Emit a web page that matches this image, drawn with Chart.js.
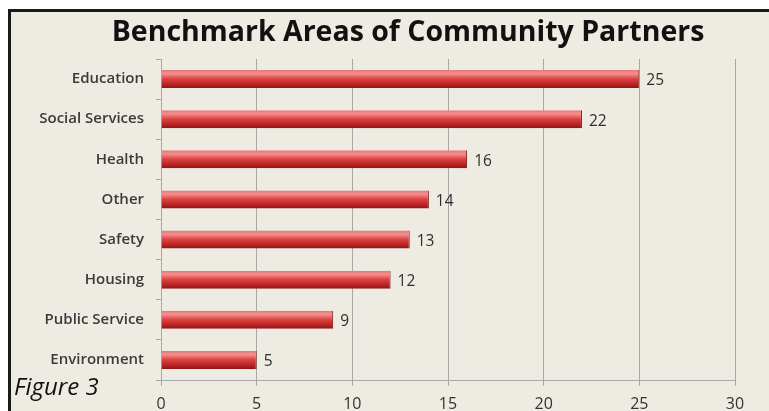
<!DOCTYPE html>
<html>
<head>
<meta charset="utf-8">
<script src="https://cdn.jsdelivr.net/npm/chart.js@4.4.0/dist/chart.umd.min.js"></script>
<style>
	html, body { margin: 0; padding: 0; background: #fff; }
	#frame {
		position: absolute; left: 8px; top: 9px; width: 761px; height: 402px;
		background: #eeebe3; border-left: 3px solid #1a1a1a; border-top: 3px solid #1a1a1a;
		box-sizing: border-box;
	}
	#wrap { position: absolute; left: 0; top: 0; width: 769px; height: 411px; }
</style>
</head>
<body>
<div id="frame"></div>
<div id="wrap"><canvas id="chart" width="769" height="411"></canvas></div>
<script>
var categories = ['Education', 'Social Services', 'Health', 'Other', 'Safety', 'Housing', 'Public Service', 'Environment'];
var counts = [25, 22, 16, 14, 13, 12, 9, 5];
var xTicks = [0, 5, 10, 15, 20, 25, 30];

var chartTitle = 'Benchmark Areas of Community Partners';
var figureLabel = 'Figure 3';
var fontFamily = "'Open Sans', 'DejaVu Sans', sans-serif";
var barPct = 0.45;

// red bar with a light top edge and dark bottom, like the old 3D office style
function barGradient(context) {
	var chart = context.chart;
	var y = chart.scales && chart.scales.y;
	if (!y || !chart.chartArea || context.dataIndex === undefined) {
		return '#d33a3a';
	}
	var mid = y.getPixelForValue(context.dataIndex);
	var half = (y.height / categories.length) * barPct / 2;
	var g = chart.ctx.createLinearGradient(0, mid - half, 0, mid + half);
	g.addColorStop(0, '#e67676');
	g.addColorStop(0.2, '#f49090');
	g.addColorStop(0.5, '#dc3f3f');
	g.addColorStop(0.8, '#b82424');
	g.addColorStop(1, '#8c1515');
	return g;
}

var extras = {
	id: 'extras',
	afterDatasetsDraw: function(chart) {
		var ctx = chart.ctx;
		var meta = chart.getDatasetMeta(0);
		ctx.save();
		ctx.fillStyle = '#2e2e2e';
		ctx.font = '500 15.5px ' + fontFamily;
		ctx.textBaseline = 'middle';
		ctx.textAlign = 'left';
		meta.data.forEach(function(bar, i) {
			ctx.fillText(counts[i], bar.x + 7, bar.y + 2);
		});
		ctx.restore();
	},
	afterDraw: function(chart) {
		var ctx = chart.ctx;
		ctx.save();
		ctx.fillStyle = '#111';
		ctx.font = 'bold 28.5px ' + fontFamily;
		ctx.textAlign = 'center';
		ctx.textBaseline = 'middle';
		ctx.fillText(chartTitle, 408, 33);
		ctx.font = 'italic 24px ' + fontFamily;
		ctx.textAlign = 'left';
		ctx.fillText(figureLabel, 14, 388);
		ctx.restore();
	}
};

var ctx = document.getElementById('chart').getContext('2d');
new Chart(ctx, {
	type: 'bar',
	data: {
		labels: categories,
		datasets: [{
			data: counts,
			backgroundColor: barGradient,
			borderColor: '#7a1010',
			borderWidth: { right: 1, top: 0, bottom: 0, left: 0 },
			barPercentage: barPct,
			categoryPercentage: 1
		}]
	},
	options: {
		indexAxis: 'y',
		responsive: false,
		animation: false,
		layout: { padding: { top: 59, right: 34, left: 0, bottom: 0 } },
		plugins: {
			legend: { display: false },
			title: { display: false },
			tooltip: { enabled: false }
		},
		scales: {
			x: {
				min: 0,
				max: 30,
				afterBuildTicks: function(scale) {
					scale.ticks = xTicks.map(function(v) { return { value: v }; });
				},
				afterFit: function(scale) { scale.height = 31; },
				grid: {
					color: '#a8a8a8',
					lineWidth: 1,
					drawTicks: true,
					tickLength: 6
				},
				border: { color: '#a8a8a8' },
				ticks: {
					color: '#333',
					font: { size: 16, family: fontFamily, weight: '500' },
					padding: 9
				}
			},
			y: {
				afterFit: function(scale) { scale.width = 161; },
				grid: {
					offset: true,
					drawOnChartArea: false,
					color: '#a8a8a8',
					tickLength: 5
				},
				border: { color: '#a8a8a8' },
				ticks: {
					color: '#3a3a3a',
					font: { size: 15, family: fontFamily, weight: '600' },
					padding: 12
				}
			}
		}
	},
	plugins: [extras]
});
</script>
</body>
</html>
